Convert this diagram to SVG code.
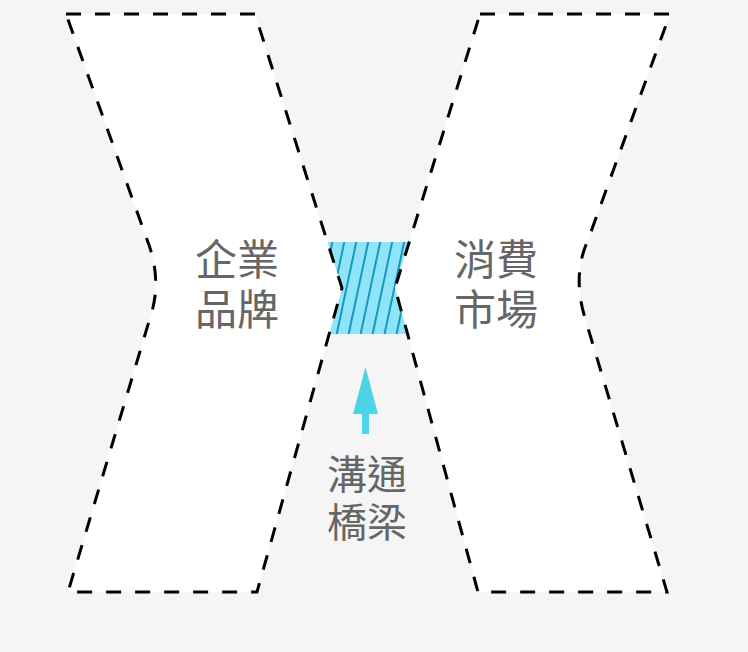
<svg xmlns="http://www.w3.org/2000/svg" width="748" height="652" viewBox="0 0 748 652">
  <style>
    .shape { fill: #ffffff; stroke: #000000; stroke-width: 3; stroke-dasharray: 15 14; stroke-linejoin: miter; }
    .label { font-family: "Noto Sans CJK TC", "Noto Sans CJK SC", sans-serif; fill: #666666; text-anchor: middle; }
    .big { font-size: 42px; }
    .small { font-size: 40px; }
  </style>
  <defs>
    <pattern id="hatch" patternUnits="userSpaceOnUse" width="11.7" height="40" patternTransform="rotate(12)">
      <rect x="0" y="0" width="11.7" height="40" fill="#8fe4f9"/>
      <line x1="1" y1="0" x2="1" y2="40" stroke="#1897bd" stroke-width="2"/>
    </pattern>
  </defs>
  <rect x="0" y="0" width="748" height="652" fill="#f5f5f5"/>
  <g id="bridge">
    <polygon points="327,242 409,242 395,288 408,334 329,334 342,288" fill="url(#hatch)"/>
  </g>
  <g id="brand">
    <path class="shape" d="M66,14 L255,14 L342,288 L257,592 L68,592 L150,318 Q162,283 149,245 Z"/>
    <text class="label big"><tspan x="237" y="275">企業</tspan><tspan x="237" y="325">品牌</tspan></text>
  </g>
  <g id="market">
    <path class="shape" d="M480,14 L670,14 L588,240 Q572,275 585,318 L667,592 L478,592 L395,288 Z"/>
    <text class="label big"><tspan x="496" y="275">消費</tspan><tspan x="496" y="325">市場</tspan></text>
  </g>
  <g id="bridge-label">
    <text class="label small"><tspan x="367" y="489">溝通</tspan><tspan x="367" y="537">橋梁</tspan></text>
  </g>
  <g id="connectors">
    <rect x="362" y="410" width="7" height="24" fill="#4fd3e6"/>
    <polygon points="365.5,367 378,414 353,414" fill="#4fd3e6"/>
  </g>
</svg>
